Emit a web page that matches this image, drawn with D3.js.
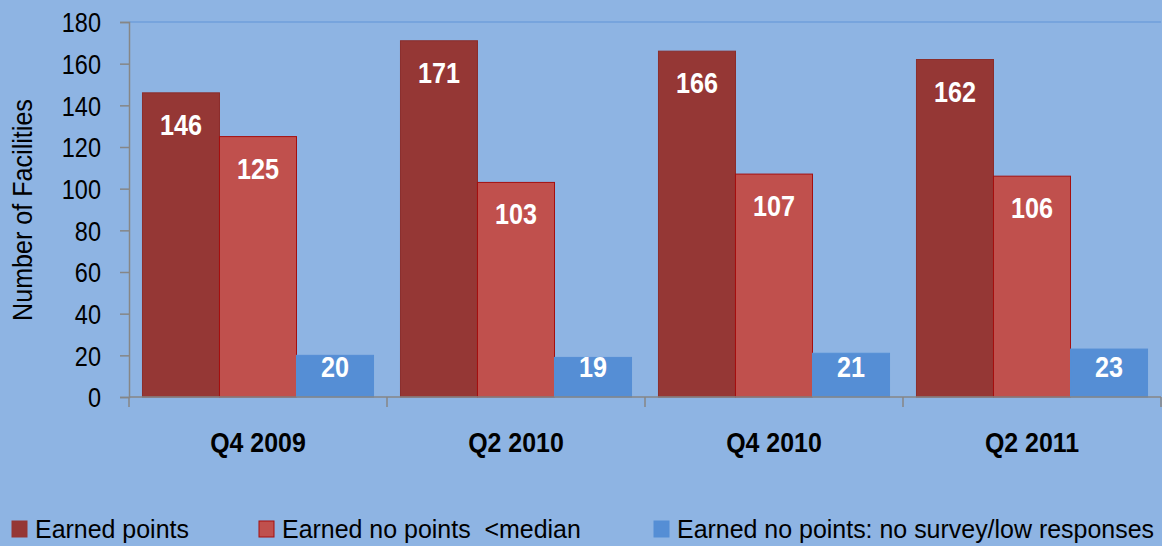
<!DOCTYPE html>
<html><head><meta charset="utf-8">
<script src="https://cdn.jsdelivr.net/npm/d3@7"></script>
<style>
html,body{margin:0;padding:0;background:#8EB4E3;}
svg{display:block;}
text{font-family:"Liberation Sans",Arial,sans-serif;}
</style></head>
<body>
<svg id="chart" width="1162" height="546"></svg>
<script>
const categories = ["Q4 2009", "Q2 2010", "Q4 2010", "Q2 2011"];
const seriesNames = ["Earned points", "Earned no points  <median", "Earned no points: no survey/low responses"];
const earnedPoints = [146, 171, 166, 162];
const noPointsBelowMedian = [125, 103, 107, 106];
const noSurvey = [20, 19, 21, 23];
const yTicks = [0, 20, 40, 60, 80, 100, 120, 140, 160, 180];
const yTitle = "Number of Facilities";

const series = [earnedPoints, noPointsBelowMedian, noSurvey];
const fills = ["#953735", "#C0504D", "#558ED5"];
const strokes = ["#8B2E2C", "#A50F0F", "#558ED5"];

const svg = d3.select("#chart");
svg.append("rect").attr("width",1162).attr("height",546).attr("fill","#8EB4E3");

function addText(parent, x, y, str, o){
  const g = parent.append("g").attr("transform",`translate(${x},${y})${o.rotate?` rotate(${o.rotate})`:""} scale(${o.sx},1)`);
  return g.append("text").attr("x",0).attr("y",0)
    .attr("text-anchor",o.anchor||"start")
    .attr("font-size",o.size).attr("font-weight",o.bold?"bold":"normal")
    .attr("fill",o.fill||"#000")
    .style("white-space","pre").text(str);
}

const x0 = d3.scaleBand().domain(categories).range([129,1161]).paddingInner(0).paddingOuter(0);
const x1 = d3.scaleBand().domain([0,1,2]).range([0,x0.bandwidth()]).paddingInner(0).paddingOuter(0.175);
const y = d3.scaleLinear().domain([0,180]).range([397,22]);

// top border line
svg.append("line").attr("x1",129).attr("x2",1161).attr("y1",y(180)).attr("y2",y(180))
  .attr("stroke","#6F9FDB").attr("stroke-width",1.5);

// bars
const groups = svg.selectAll("g.cat").data(categories).enter().append("g")
  .attr("class","cat").attr("transform",d=>`translate(${x0(d)},0)`);
groups.each(function(cat,ci){
  const g = d3.select(this);
  series.forEach((vals,si)=>{
    const v = vals[ci];
    g.append("rect").attr("x",x1(si)).attr("y",y(v)).attr("width",x1.bandwidth())
      .attr("height",y(0)-y(v)).attr("fill",fills[si]).attr("stroke",strokes[si]).attr("stroke-width",1);
    const by = Math.min(y(v)+42, y(0)-20);
    addText(g, x1(si)+x1.bandwidth()/2, by, String(v), {size:30, bold:true, sx:0.84, anchor:"middle", fill:"#fff"});
  });
});

// y axis
const yAxis = d3.axisLeft(y).tickValues(yTicks).tickSize(9).tickPadding(19);
const ya = svg.append("g").attr("transform","translate(129,0)").call(yAxis);
ya.select(".domain").attr("stroke","#868686").attr("stroke-width",1.5);
ya.selectAll(".tick line").attr("stroke","#868686").attr("stroke-width",1.5);
ya.selectAll(".tick text").each(function(){
  const t = d3.select(this);
  t.attr("x",0).attr("dy","0.35em").attr("transform","translate(-28,0) scale(0.84,1)")
   .attr("font-size",28).attr("fill","#000").attr("font-family",'"Liberation Sans",Arial,sans-serif');
});

// x axis
svg.append("line").attr("x1",129).attr("x2",1161).attr("y1",397).attr("y2",397)
  .attr("stroke","#868686").attr("stroke-width",1.5);
const xTickPos = categories.map(c=>x0(c)).concat([x0.range()[1]]);
svg.selectAll("line.xt").data(xTickPos).enter().append("line").attr("class","xt")
  .attr("x1",d=>d).attr("x2",d=>d).attr("y1",397).attr("y2",407)
  .attr("stroke","#868686").attr("stroke-width",1.5);
categories.forEach(c=>{
  addText(svg, x0(c)+x0.bandwidth()/2, 452, c, {size:28, bold:true, sx:0.89, anchor:"middle"});
});

// y title
addText(svg, 32, 210, yTitle, {size:27, sx:0.93, anchor:"middle", rotate:-90});

// legend
const legX = [12, 259, 654];
seriesNames.forEach((n,i)=>{
  svg.append("rect").attr("x",legX[i]).attr("y",521).attr("width",15).attr("height",16)
    .attr("fill",fills[i]).attr("stroke",i==1?"#A50F0F":fills[i]).attr("stroke-width",1);
  addText(svg, legX[i]+23, 538, n, {size:26, sx:0.96});
});
</script>
</body></html>
